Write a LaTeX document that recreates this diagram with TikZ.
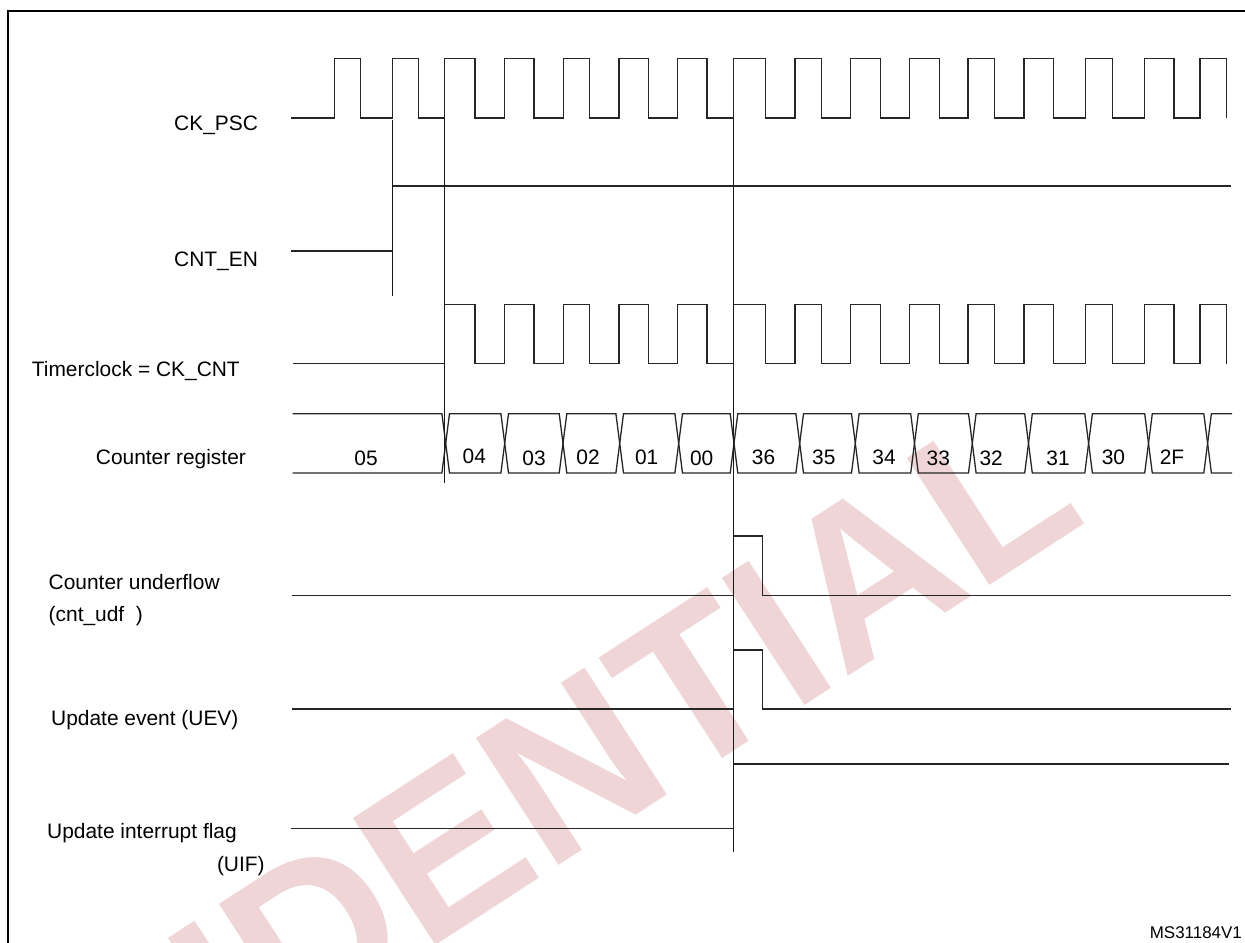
\documentclass[tikz,border=0pt]{standalone}
\usepackage{fontspec}
\setmainfont{Liberation Sans}
\usetikzlibrary{positioning}
\definecolor{wmark}{RGB}{240,213,215}

\begin{document}
\begin{tikzpicture}[x=1bp, y=-1bp,
    sig/.style={draw=black!85, line width=1.3bp},
    marker/.style={draw=black!90, line width=1.3bp},
    outer_frame/.style={draw=black, line width=2.7bp},
    lbl/.style={anchor=base west, inner sep=0pt, font=\fontsize{21}{25}\selectfont},
    val/.style={anchor=base, inner sep=0pt, font=\fontsize{21}{25}\selectfont}
  ]

  \useasboundingbox (0,0) rectangle (1245,943);
  \clip (0,0) rectangle (1245,943);

  % Watermark
  \node[anchor=base east, inner sep=0pt, rotate=33, text=wmark,
        font=\bfseries\fontsize{221}{221}\selectfont] (wm) at (1090,520) {CONFIDENTIAL};

  % Outer frame (right and bottom edges lie outside)
  \draw[outer_frame] (8,1000) -- (8,11) -- (1300,11);

  % Signal names
  \node[lbl] (ck_psc_lbl) at (174,130) {CK\_PSC};
  \node[lbl] (cnt_en_lbl) at (174,266.7) {CNT\_EN};
  \node[lbl] (ck_cnt_lbl) at (31.7,376.7) {Timerclock = CK\_CNT};
  \node[lbl] (cnt_reg_lbl) at (95.7,464) {Counter register};
  \node[lbl] (udf_lbl) at (48.5,589.3) {Counter underflow};
  \node[lbl] (udf_lbl2) at (48.5,621.5) {(cnt\_udf\ \ )};
  \node[lbl] (uev_lbl) at (51,725) {Update event (UEV)};
  \node[lbl] (uif_lbl) at (47,838.6) {Update interrupt flag};
  \node[lbl] (uif_lbl2) at (216.8,871.6) {(UIF)};
  \node[anchor=base east, inner sep=0pt, font=\fontsize{17}{20}\selectfont]
    (fig_id) at (1242,938.5) {MS31184V1};

  % CK_PSC
  \draw[sig] (291,118) -| (334.3,58.5) -| (360.7,118) -| (392.3,58.5) -| (418.7,118)
    -| (444.7,58.5) -| (475,118) -| (504.3,58.5) -| (534,118) -| (563.3,58.5)
    -| (589.7,118) -| (619,58.5) -| (648.7,118) -| (677.7,58.5) -| (707,118)
    -| (733.7,58.5) -| (765.5,118) -| (795,58.5) -| (821.4,118) -| (850.6,58.5)
    -| (880.4,118) -| (909.5,58.5) -| (939.3,118) -| (968,58.5) -| (994.5,118)
    -| (1024,58.5) -| (1053.8,118) -| (1085.6,58.5) -| (1112.4,118)
    -| (1144.5,58.5) -| (1174,118) -| (1200,58.5) -| (1226.2,118);

  % CNT_EN
  \draw[sig] (291,251) -- (392.3,251);
  \draw[sig] (392.3,186) -- (1230.5,186);
  \draw[marker] (392.3,120) -- (392.3,295.7);

  % Timerclock = CK_CNT
  \draw[sig] (292.7,363.7) -| (444.7,304.7) -| (475,363.7) -| (504.3,304.7)
    -| (534,363.7) -| (563.3,304.7) -| (589.7,363.7) -| (619,304.7)
    -| (648.7,363.7) -| (677.7,304.7) -| (707,363.7) -| (733.7,304.7)
    -| (765.5,363.7) -| (795,304.7) -| (821.4,363.7) -| (850.6,304.7)
    -| (880.4,363.7) -| (909.5,304.7) -| (939.3,363.7) -| (968,304.7)
    -| (994.5,363.7) -| (1024,304.7) -| (1053.8,363.7) -| (1085.6,304.7)
    -| (1112.4,363.7) -| (1144.5,304.7) -| (1174,363.7) -| (1200,304.7)
    -| (1226.2,363.7);

  % Counter register: two zig-zag lines give the crossings
  \draw[sig] (292.7,413.7) -- (441.9,413.7) -- (449.5,473) -- (500.9,473)
    -- (508.5,413.7) -- (559.2,413.7) -- (566.8,473) -- (615.9,473)
    -- (623.5,413.7) -- (674.9,413.7) -- (682.5,473) -- (730.2,473)
    -- (737.8,413.7) -- (795.9,413.7) -- (803.5,473) -- (851.5,473)
    -- (859.1,413.7) -- (910.7,413.7) -- (918.3,473) -- (968.5,473)
    -- (976.1,413.7) -- (1024.7,413.7) -- (1032.3,473) -- (1084.8,473)
    -- (1092.4,413.7) -- (1144.7,413.7) -- (1152.3,473) -- (1203.8,473)
    -- (1211.4,413.7) -- (1232.2,413.7);
  \draw[sig] (292.7,473) -- (441.9,473) -- (449.5,413.7) -- (500.9,413.7)
    -- (508.5,473) -- (559.2,473) -- (566.8,413.7) -- (615.9,413.7)
    -- (623.5,473) -- (674.9,473) -- (682.5,413.7) -- (730.2,413.7)
    -- (737.8,473) -- (795.9,473) -- (803.5,413.7) -- (851.5,413.7)
    -- (859.1,473) -- (910.7,473) -- (918.3,413.7) -- (968.5,413.7)
    -- (976.1,473) -- (1024.7,473) -- (1032.3,413.7) -- (1084.8,413.7)
    -- (1092.4,473) -- (1144.7,473) -- (1152.3,413.7) -- (1203.8,413.7)
    -- (1211.4,473) -- (1232.2,473);

  % Counter values
  \node[val] (v05) at (366,465) {05};
  \node[val] (v04) at (474.3,463.3) {04};
  \node[val] (v03) at (534,465.5) {03};
  \node[val] (v02) at (588,464) {02};
  \node[val] (v01) at (646.7,464.5) {01};
  \node[val] (v00) at (701.7,465) {00};
  \node[val] (v36) at (763.5,464.5) {36};
  \node[val] (v35) at (823.8,464.5) {35};
  \node[val] (v34) at (884,464) {34};
  \node[val] (v33) at (938.3,465.5) {33};
  \node[val] (v32) at (991.2,465.5) {32};
  \node[val] (v31) at (1058,465.5) {31};
  \node[val] (v30) at (1113.4,464.5) {30};
  \node[val] (v2f) at (1172,464) {2F};

  % Counter underflow
  \draw[sig] (291.8,595.7) -- (733.7,595.7);
  \draw[sig] (733.7,536) -- (762.8,536) -- (762.8,595.7) -- (1231,595.7);

  % Update event
  \draw[sig] (291.8,709) -- (733.7,709);
  \draw[sig] (733.7,650) -- (762.8,650) -- (762.8,709) -- (1231,709);

  % Update interrupt flag
  \draw[sig] (290.8,828.3) -- (733.7,828.3);
  \draw[sig] (733.7,764) -- (1229,764);

  % Timing markers
  \draw[marker] (444.7,118) -- (444.7,482.7);
  \draw[marker] (733.7,118) -- (733.7,852.3);

\end{tikzpicture}
\end{document}
